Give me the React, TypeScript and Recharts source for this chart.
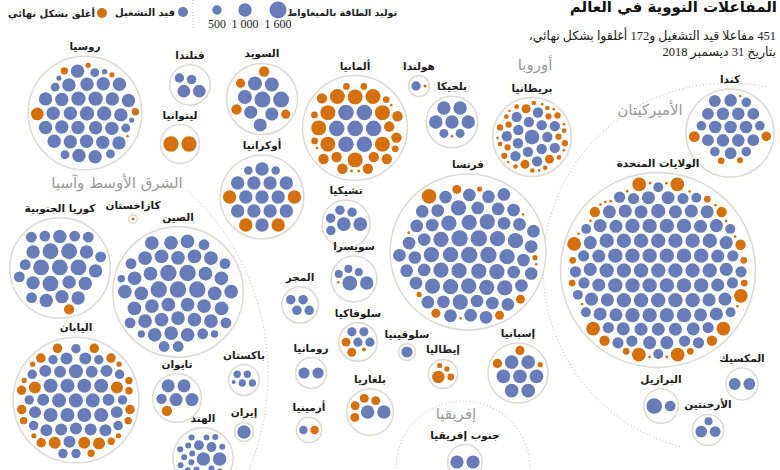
import React from 'react';
import { ScatterChart, Scatter, XAxis, YAxis } from 'recharts';

const BLUE = '#687db7';
const ORANGE = '#d4700e';
const RING = '#dedad3';
const AR = "'Liberation Serif', 'DejaVu Sans'";
const ARB = "'DejaVu Sans'";

// ---------- data ----------
const countryNames = [
  'روسيا', 'فنلندا', 'ليتوانيا', 'السويد', 'أوكرانيا', 'ألمانيا', 'هولندا', 'بلجيكا', 'بريطانيا',
  'كندا', 'الولايات المتحدة', 'فرنسا', 'إسبانيا', 'المكسيك', 'البرازيل', 'الأرجنتين',
  'تشيكيا', 'سويسرا', 'المجر', 'سلوفاكيا', 'سلوفينيا', 'رومانيا', 'إيطاليا', 'بلغاريا', 'أرمينيا',
  'جنوب إفريقيا', 'كازاخستان', 'كوريا الجنوبية', 'الصين', 'اليابان', 'تايوان', 'باكستان', 'إيران', 'الهند',
];
// layout position of each country bubble (chart units)
const centerX = [85, 190, 180, 262, 262, 355, 419, 452, 532, 730, 658, 468, 518, 742, 661, 708, 346, 354, 300, 358, 407, 311, 443, 370, 309, 465, 133, 60, 178, 76, 177, 244, 244, 203];
const centerY = [113, 85, 144, 99, 197, 128, 86, 122, 137, 133, 270, 252, 373, 384, 406, 430, 224, 279, 305, 342, 352, 373, 374, 412, 430, 462, 219, 268, 292, 400, 398, 380, 432, 458];
// countries whose closed reactors are interleaved with the operating ones
const mixedCountries = ['اليابان', 'تايوان'];

// reactors in operation: [count, MW]
const operatingGroups: number[][][] = [
  [[24, 1000], [4, 1150], [5, 440], [3, 150]],
  [[2, 890], [2, 500]],
  [],
  [[2, 1400], [3, 1100], [3, 950]],
  [[13, 1000], [2, 400]],
  [[7, 1350]],
  [[1, 480]],
  [[5, 1000], [2, 450]],
  [[1, 1200], [14, 600]],
  [[8, 880], [6, 780], [5, 515]],
  [[40, 1150], [35, 950], [15, 700], [8, 550]],
  [[34, 900], [20, 1300], [4, 1500]],
  [[7, 1050]],
  [[2, 780]],
  [[1, 1350], [1, 640]],
  [[1, 745], [1, 650], [1, 360]],
  [[2, 1050], [4, 500]],
  [[1, 1220], [1, 1010], [3, 365]],
  [[4, 500]],
  [[4, 470]],
  [[1, 700]],
  [[2, 700]],
  [],
  [[2, 1000]],
  [[1, 400]],
  [[2, 970]],
  [],
  [[10, 1000], [6, 1400], [8, 650]],
  [[30, 1050], [8, 650], [5, 1500], [3, 300]],
  [[12, 1100], [16, 800], [11, 500]],
  [[4, 950], [1, 600]],
  [[4, 300], [1, 100]],
  [[1, 1000]],
  [[2, 1000], [2, 540], [18, 200]],
];
// permanently closed reactors: [count, MW]
const closedGroups: number[][][] = [
  [[1, 900], [2, 300], [2, 150], [1, 20]],
  [],
  [[2, 1300]],
  [[2, 600], [2, 470]],
  [[4, 1000]],
  [[9, 1250], [10, 600], [6, 250], [4, 40]],
  [[1, 55]],
  [[1, 10]],
  [[3, 450], [8, 220], [10, 120], [8, 40]],
  [[1, 640], [1, 515], [1, 250], [1, 200], [1, 22]],
  [[8, 1050], [5, 600], [7, 250], [16, 40]],
  [[1, 1200], [4, 450], [3, 150], [4, 30]],
  [[2, 470], [1, 150]],
  [],
  [],
  [],
  [],
  [[1, 6]],
  [],
  [[2, 440], [1, 90]],
  [],
  [],
  [[1, 860], [1, 260], [1, 160], [1, 150]],
  [[4, 440]],
  [[1, 400]],
  [],
  [[1, 50]],
  [[1, 580]],
  [],
  [[5, 800], [8, 500], [6, 300], [5, 150]],
  [[1, 600]],
  [],
  [],
  [],
];

const legendMW = [500, 1000, 1600];
const legendLabels = ['500', '1 000', '1 600'];
const titleText = 'المفاعلات النووية في العالم';
const subtitle1 = '451 مفاعلا قيد التشغيل و172 أغلقوا بشكل نهائي،';
const subtitle2 = 'بتاريخ 31 ديسمبر 2018';
const legendSizeTitle = 'توليد الطاقة بالميغاواط';
const legendOperating = 'قيد التشغيل';
const legendClosed = 'أغلق بشكل نهائي';
const regionNames = ['أوروبا', 'الأميركيتان', 'الشرق الأوسط وآسيا', 'إفريقيا'];
const regionX = [535, 650, 117, 456];
const regionY = [70, 115, 188, 419];

// ---------- packing (greedy: each circle goes to the free tangent spot nearest the centre) ----------
const rOf = (mw: number) => Math.max(1.3, 0.212 * Math.sqrt(mw));
const PAD = 1.4;

type Circ = { x: number; y: number; r: number; closed: boolean };

function greedyPack(items: Circ[]) {
  const placed: Circ[] = [];
  for (const c of items) {
    if (placed.length === 0) { c.x = 0; c.y = 0; placed.push(c); continue; }
    if (placed.length === 1) { const a = placed[0]; c.x = a.x + a.r + c.r; c.y = 0; placed.push(c); continue; }
    let best = Infinity, bx = 0, by = 0;
    const tryPos = (x: number, y: number) => {
      const f = Math.hypot(x, y) + c.r + 1e-4 * (y + x * 0.01);
      if (f >= best) return;
      for (const p of placed) {
        const dx = p.x - x, dy = p.y - y, m = p.r + c.r - 1e-6;
        if (dx * dx + dy * dy < m * m) return;
      }
      best = f; bx = x; by = y;
    };
    for (let i = 0; i < placed.length; i++) {
      const a = placed[i];
      for (let j = i + 1; j < placed.length; j++) {
        const b = placed[j];
        const dx = b.x - a.x, dy = b.y - a.y, d = Math.hypot(dx, dy);
        const ra = a.r + c.r, rb = b.r + c.r;
        if (d === 0 || d > ra + rb || d < Math.abs(ra - rb)) continue;
        const l = (ra * ra - rb * rb + d * d) / (2 * d);
        const h = Math.sqrt(Math.max(0, ra * ra - l * l));
        const mx = a.x + (dx * l) / d, my = a.y + (dy * l) / d;
        tryPos(mx - (dy * h) / d, my + (dx * h) / d);
        tryPos(mx + (dy * h) / d, my - (dx * h) / d);
      }
    }
    if (best === Infinity) {
      let far = 0;
      for (const p of placed) far = Math.max(far, Math.hypot(p.x, p.y) + p.r);
      bx = far + c.r; by = 0;
    }
    c.x = bx; c.y = by; placed.push(c);
  }
}

function encloseApprox(cs: Circ[]) {
  let x = 0, y = 0;
  for (const c of cs) { x += c.x; y += c.y; }
  x /= cs.length; y /= cs.length;
  const far = (px: number, py: number) => {
    let m = 0;
    for (const c of cs) m = Math.max(m, Math.hypot(c.x - px, c.y - py) + c.r);
    return m;
  };
  for (let it = 1; it <= 1500; it++) {
    let best = -1, bx = x, by = y;
    for (const c of cs) {
      const dx = c.x - x, dy = c.y - y, d = Math.hypot(dx, dy), f = d + c.r;
      if (f > best) {
        best = f;
        if (d > 1e-9) { bx = c.x + (dx / d) * c.r; by = c.y + (dy / d) * c.r; } else { bx = c.x + c.r; by = c.y; }
      }
    }
    x += (bx - x) / (it + 1); y += (by - y) / (it + 1);
  }
  let r = far(x, y);
  let step = r * 0.05;
  for (let k = 0; k < 300 && step > 1e-3; k++) {
    let moved = false;
    for (const [ux, uy] of [[1, 0], [-1, 0], [0, 1], [0, -1], [0.7, 0.7], [-0.7, 0.7], [0.7, -0.7], [-0.7, -0.7]]) {
      const nr = far(x + ux * step, y + uy * step);
      if (nr < r) { r = nr; x += ux * step; y += uy * step; moved = true; break; }
    }
    if (!moved) step /= 2;
  }
  return { x, y, r };
}

type Packed = { R: number; items: Circ[] };
const packs: Packed[] = countryNames.map((name, i) => {
  const items: Circ[] = [];
  for (const [cnt, mw] of operatingGroups[i]) for (let k = 0; k < cnt; k++) items.push({ x: 0, y: 0, r: rOf(mw), closed: false });
  for (const [cnt, mw] of closedGroups[i]) for (let k = 0; k < cnt; k++) items.push({ x: 0, y: 0, r: rOf(mw), closed: true });
  const mixed = mixedCountries.includes(name);
  items.sort((p, q) => {
    const cp = p.closed ? 1 : 0, cq = q.closed ? 1 : 0;
    if (!mixed && cp !== cq) {
      // operating first, but tiny closed units still fill the rim gaps after everything else
      return cp - cq;
    }
    return q.r - p.r || cp - cq;
  });
  items.forEach((c) => { c.r += PAD; });
  greedyPack(items);
  const e = encloseApprox(items);
  items.forEach((c) => { c.x -= e.x; c.y -= e.y; c.r -= PAD; });
  return { R: e.r + PAD, items };
});

const points = countryNames.map((name, i) => ({ x: centerX[i], y: centerY[i], name, idx: i }));

const rtl = (s: string) => '\u200F' + s + '\u200F';

function CountryShape(props: any) {
  const { cx, cy, payload } = props;
  if (cx == null || cy == null || !payload) return <g />;
  const p = packs[payload.idx];
  return (
    <g>
      <circle cx={cx} cy={cy} r={p.R} fill="#ffffff" stroke={RING} strokeWidth={1.5} />
      {p.items.map((c, k) => (
        <circle key={k} cx={cx + c.x} cy={cy + c.y} r={c.r} fill={c.closed ? ORANGE : BLUE} />
      ))}
      <text x={cx} y={cy - p.R - 6} textAnchor="middle" fontFamily={ARB} fontWeight="bold" fontSize={10.5} fill="#1b1b1b">
        {rtl(payload.name)}
      </text>
    </g>
  );
}

function arcPoints(cx: number, cy: number, r: number, a0: number, a1: number) {
  const pts: string[] = [];
  const n = 120;
  for (let i = 0; i <= n; i++) {
    const t = ((a0 + ((a1 - a0) * i) / n) * Math.PI) / 180;
    pts.push(`${(cx + r * Math.cos(t)).toFixed(1)},${(cy + r * Math.sin(t)).toFixed(1)}`);
  }
  return pts.join(' ');
}

function Background() {
  const legendX = [217, 245, 278];
  return (
    <svg width={780} height={470} style={{ position: 'absolute', left: 0, top: 0 }}>
      <text x={777} y={12} textAnchor="end" fontFamily={ARB} fontWeight="bold" fontSize={15} fill="#111">{rtl(titleText)}</text>
      <text x={776} y={40} textAnchor="end" fontFamily={AR} fontSize={12.5} fill="#222">{rtl(subtitle1)}</text>
      <text x={776} y={56} textAnchor="end" fontFamily={AR} fontSize={12.5} fill="#222">{rtl(subtitle2)}</text>

      <text x={397} y={16} textAnchor="end" fontFamily={ARB} fontWeight="bold" fontSize={9.5} fill="#222">{rtl(legendSizeTitle)}</text>
      {legendMW.map((mw, i) => (
        <g key={i}>
          <circle cx={legendX[i]} cy={10} r={rOf(mw)} fill={BLUE} />
          <text x={legendX[i]} y={28} textAnchor="middle" fontFamily="'Liberation Serif'" fontSize={12} fill="#222">{legendLabels[i]}</text>
        </g>
      ))}
      <line x1={193} y1={0} x2={193} y2={29} stroke="#bbb" strokeDasharray="1 2" />
      <circle cx={183} cy={12} r={5} fill={BLUE} />
      <text x={175} y={16} textAnchor="end" fontFamily={ARB} fontWeight="bold" fontSize={10} fill="#222">{rtl(legendOperating)}</text>
      <circle cx={102} cy={13} r={5} fill={ORANGE} />
      <text x={95} y={17} textAnchor="end" fontFamily={ARB} fontWeight="bold" fontSize={10} fill="#222">{rtl(legendClosed)}</text>

      <polyline points={arcPoints(728, 268, 185, -78, -255)} fill="none" stroke="#b8b8b8" strokeWidth={1} strokeDasharray="1 2.5" />
      <polyline points={arcPoints(18, 374, 250, -47, 24)} fill="none" stroke="#b8b8b8" strokeWidth={1} strokeDasharray="1 2.5" />
      <polyline points={arcPoints(463, 468, 67, -180, 0)} fill="none" stroke="#b8b8b8" strokeWidth={1} strokeDasharray="1 2.5" />

      {regionNames.map((n, i) => (
        <text key={i} x={regionX[i]} y={regionY[i]} textAnchor="middle" fontFamily={ARB} fontSize={15} fill="#9a9a9a">{rtl(n)}</text>
      ))}
    </svg>
  );
}

export default function App() {
  return (
    <div style={{ position: 'fixed', left: 0, top: 0, width: 780, height: 470, background: '#fff' }}>
      <Background />
      <div style={{ position: 'absolute', left: 0, top: 0 }}>
        <ScatterChart width={780} height={470} margin={{ top: 0, right: 0, bottom: 0, left: 0 }}>
          <XAxis dataKey="x" type="number" domain={[0, 780]} hide />
          <YAxis dataKey="y" type="number" domain={[0, 470]} reversed hide />
          <Scatter data={points} dataKey="y" shape={CountryShape} isAnimationActive={false} />
        </ScatterChart>
      </div>
    </div>
  );
}
